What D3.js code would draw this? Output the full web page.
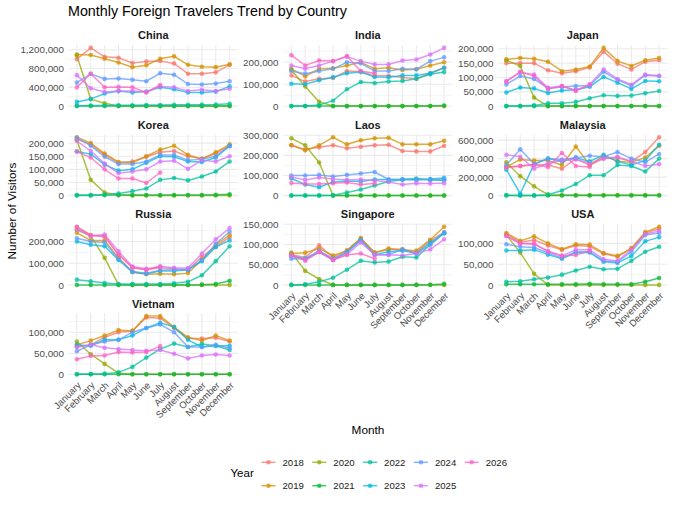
<!DOCTYPE html>
<html>
<head>
<meta charset="utf-8">
<script src="https://cdn.jsdelivr.net/npm/d3@7"></script>
<style>
body { margin: 0; background: #fff; font-family: "Liberation Sans", Arial, sans-serif; }
</style>
</head>
<body>
<div id="chart"></div>
<script>
var months = ["January","February","March","April","May","June","July","August","September","October","November","December"]
var years = ["2018","2019","2020","2021","2022","2023","2024","2025","2026"]
var yearColors = ["#F8766D","#D39200","#93AA00","#00BA38","#00C19F","#00B9E3","#619CFF","#DB72FB","#FF61C3"]
var countries = ["China","India","Japan","Korea","Laos","Malaysia","Russia","Singapore","USA","Vietnam"]

// one row per year (2018..2026), 2026 only reaches July
var china = [
	[1000000,1240000,1050000,1030000,920000,950000,960000,910000,690000,690000,720000,880000],
	[1100000,1090000,1010000,930000,830000,870000,1010000,1060000,880000,840000,830000,890000],
	[1080000,150000,60000,2000,1000,1000,1000,1000,1000,1000,1000,1000],
	[3000,3000,2000,2000,2000,2000,3000,3000,3000,3000,4000,5000],
	[10000,12000,15000,20000,20000,22000,25000,28000,30000,32000,35000,50000],
	[90000,150000,270000,320000,290000,310000,400000,360000,290000,290000,310000,420000],
	[500000,690000,580000,590000,560000,530000,700000,670000,470000,460000,480000,530000],
	[660000,380000,300000,320000,320000,300000,420000,400000,320000,350000,320000,370000],
	[400000,690000,400000,410000,400000,290000,450000]
]
var india = [
	[140000,112000,125000,128000,160000,158000,138000,138000,130000,125000,150000,175000],
	[170000,135000,170000,172000,185000,200000,170000,175000,165000,168000,185000,200000],
	[165000,90000,20000,1000,500,500,500,500,500,500,500,500],
	[500,500,500,500,500,500,500,500,500,1000,1000,3000],
	[1000,1000,5000,25000,77000,110000,105000,112000,115000,125000,145000,155000],
	[102000,100000,118000,132000,150000,155000,133000,132000,140000,140000,150000,175000],
	[160000,148000,160000,170000,200000,195000,160000,160000,170000,168000,205000,222000],
	[185000,170000,185000,205000,225000,205000,190000,190000,208000,212000,235000,265000],
	[232000,185000,208000,205000,228000,160000,150000]
]
var japan = [
	[150000,150000,150000,125000,115000,122000,135000,190000,148000,128000,155000,160000],
	[163000,168000,165000,155000,122000,128000,138000,203000,158000,140000,160000,168000],
	[160000,140000,30000,500,500,500,500,500,500,500,500,500],
	[500,500,500,500,500,500,500,500,500,500,800,1000],
	[500,500,3000,10000,10000,15000,28000,38000,36000,37000,45000,53000],
	[48000,65000,62000,46000,55000,57000,68000,102000,82000,60000,88000,87000],
	[76000,105000,95000,62000,67000,70000,72000,120000,92000,72000,108000,105000],
	[88000,118000,110000,64000,70000,56000,76000,128000,95000,75000,110000,106000],
	[85000,120000,105000,60000,70000,53000,75000]
]
var korea = [
	[215000,195000,155000,125000,130000,148000,165000,170000,150000,140000,160000,190000],
	[222000,200000,160000,128000,125000,150000,175000,190000,155000,140000,165000,195000],
	[212000,60000,12000,2000,500,500,500,500,500,500,500,500],
	[2000,2000,2000,2000,2000,2000,2000,2000,2000,2000,3000,5000],
	[500,500,3000,8000,17000,27000,60000,67000,58000,73000,92000,130000],
	[168000,158000,118000,95000,100000,125000,150000,148000,130000,128000,145000,190000],
	[220000,190000,148000,120000,120000,130000,155000,155000,135000,138000,150000,188000],
	[208000,170000,122000,85000,92000,100000,130000,133000,102000,135000,130000,150000],
	[168000,145000,100000,65000,65000,48000,88000]
]
var laos = [
	[250000,230000,240000,250000,235000,243000,250000,253000,222000,220000,220000,248000],
	[252000,225000,250000,290000,255000,275000,285000,288000,255000,255000,255000,273000],
	[285000,250000,165000,500,500,500,500,500,500,500,500,500],
	[500,500,500,500,500,500,500,500,500,500,500,500],
	[500,500,500,2000,15000,30000,50000,70000,80000,85000,78000,75000],
	[85000,55000,42000,68000,72000,70000,80000,80000,80000,80000,82000,88000],
	[100000,100000,103000,95000,103000,110000,117000,80000,80000,78000,80000,80000],
	[92000,78000,90000,82000,78000,80000,75000,68000,55000,62000,60000,62000],
	[63000,58000,58000,62000,65000,55000,60000]
]
var malaysia = [
	[310000,320000,340000,330000,290000,400000,330000,400000,410000,370000,470000,630000],
	[310000,390000,380000,380000,330000,530000,330000,430000,370000,360000,410000,540000],
	[360000,210000,100000,10000,5000,5000,5000,5000,5000,5000,5000,5000],
	[1000,1000,1000,1000,1000,1000,1000,1000,1000,1000,1000,1000],
	[5000,2000,2000,10000,55000,125000,220000,220000,330000,320000,260000,400000],
	[280000,20000,340000,400000,370000,410000,370000,440000,370000,330000,380000,550000],
	[330000,500000,340000,400000,390000,410000,430000,420000,470000,400000,360000,450000],
	[440000,420000,290000,350000,380000,390000,350000,400000,420000,370000,320000,340000],
	[300000,320000,330000,310000,460000,320000,310000]
]
var russia = [
	[265000,230000,225000,140000,80000,70000,80000,75000,70000,130000,175000,220000],
	[240000,205000,205000,125000,60000,50000,52000,50000,55000,115000,185000,230000],
	[255000,225000,125000,2000,1000,1000,1000,1000,1000,1000,1000,1000],
	[1000,1000,1000,1000,1000,1000,1000,1000,1000,2000,5000,20000],
	[25000,18000,10000,5000,5000,5000,5000,8000,15000,45000,110000,178000],
	[200000,185000,178000,115000,60000,52000,65000,65000,70000,110000,175000,205000],
	[215000,200000,195000,120000,62000,55000,68000,72000,72000,115000,190000,245000],
	[255000,225000,232000,155000,85000,75000,85000,80000,78000,145000,210000,262000],
	[268000,228000,222000,140000,82000,70000,85000]
]
var singapore = [
	[75000,68000,98000,68000,85000,115000,80000,88000,88000,80000,110000,130000],
	[78000,80000,90000,73000,85000,116000,80000,90000,87000,85000,112000,144000],
	[80000,35000,15000,500,500,500,500,500,500,500,500,500],
	[500,500,500,500,500,500,500,500,500,500,1000,3000],
	[500,2000,8000,18000,38000,60000,56000,58000,70000,68000,100000,128000],
	[72000,65000,82000,62000,82000,112000,75000,82000,85000,78000,105000,128000],
	[65000,65000,85000,65000,80000,110000,75000,75000,88000,78000,100000,130000],
	[72000,62000,82000,62000,75000,105000,75000,75000,73000,78000,88000,113000],
	[75000,60000,82000,62000,75000,78000,65000]
]
var usa = [
	[122000,103000,108000,95000,85000,95000,93000,75000,68000,88000,125000,135000],
	[125000,106000,117000,100000,86000,98000,97000,77000,70000,88000,127000,140000],
	[120000,78000,27000,500,500,500,500,500,500,500,500,500],
	[2000,2000,2000,2000,2000,2000,3000,2000,2000,2000,8000,17000],
	[8000,9000,14000,18000,25000,35000,44000,38000,39000,58000,80000,92000],
	[83000,83000,85000,73000,63000,78000,78000,56000,53000,70000,105000,115000],
	[98000,92000,90000,77000,65000,80000,80000,58000,56000,80000,120000,125000],
	[118000,100000,98000,82000,70000,85000,85000,62000,58000,85000,122000,130000],
	[118000,100000,100000,80000,70000,72000,82000]
]
var vietnam = [
	[65000,70000,88000,100000,103000,135000,133000,110000,85000,85000,87000,78000],
	[70000,80000,92000,105000,103000,138000,138000,112000,88000,80000,92000,80000],
	[78000,48000,25000,3000,500,500,500,500,500,500,500,500],
	[500,500,500,500,500,500,500,500,500,500,500,500],
	[500,1000,2000,5000,18000,40000,60000,73000,65000,72000,68000,58000],
	[70000,68000,82000,82000,92000,110000,122000,112000,82000,65000,68000,68000],
	[55000,70000,78000,82000,100000,110000,118000,100000,65000,65000,70000,62000],
	[65000,70000,63000,60000,58000,56000,58000,49000,38000,45000,47000,45000],
	[36000,44000,45000,53000,52000,53000,67000]
]
var countryData = [china, india, japan, korea, laos, malaysia, russia, singapore, usa, vietnam]
var yTicks = [
	[0,400000,800000,1200000],
	[0,100000,200000],
	[0,50000,100000,150000,200000],
	[0,50000,100000,150000,200000],
	[0,100000,200000,300000],
	[0,200000,400000,600000],
	[0,100000,200000],
	[0,50000,100000,150000],
	[0,50000,100000],
	[0,50000,100000]
]

var W = 674, H = 506
var colLefts = [68.5, 283, 498]
var rowTops = [45, 134.4, 223.8, 313.2]
var panelW = 169.5, panelH = 64
var grid = "#EBEBEB", tickColor = "#4D4D4D"
var fmt = d3.format(",")

var svg = d3.select("#chart").append("svg")
	.attr("width", W).attr("height", H)
	.style("font-family", "'Liberation Sans', Arial, sans-serif")

svg.append("text")
	.attr("x", 68).attr("y", 16)
	.attr("font-size", 14.3)
	.attr("fill", "#000")
	.text("Monthly Foreign Travelers Trend by Country")

var x = d3.scalePoint().domain(months).range([0, panelW]).padding(0.6)

function draw_panel(i) {
	var col = i % 3, row = Math.floor(i / 3)
	var series = countryData[i]
	var ticks = yTicks[i]
	var maxVal = d3.max(series, (s) => d3.max(s))
	var minVal = d3.min(series, (s) => d3.min(s))
	var pad = (maxVal - minVal) * 0.05
	var y = d3.scaleLinear().domain([minVal - pad, maxVal + pad]).range([panelH, 0])
	var g = svg.append("g")
		.attr("transform", "translate(" + colLefts[col] + "," + rowTops[row] + ")")

	// minor grid
	var step = ticks[1] - ticks[0]
	var minors = []
	for (var t = ticks[0] - step / 2; t <= ticks[ticks.length - 1] + step / 2; t += step) {
		if (t >= y.domain()[0] && t <= y.domain()[1]) minors.push(t)
	}
	g.selectAll("line.minor").data(minors).enter().append("line")
		.attr("class", "minor")
		.attr("x1", 0).attr("x2", panelW)
		.attr("y1", (d) => y(d)).attr("y2", (d) => y(d))
		.attr("stroke", grid).attr("stroke-width", 0.55)
	g.selectAll("line.hmajor").data(ticks).enter().append("line")
		.attr("class", "hmajor")
		.attr("x1", 0).attr("x2", panelW)
		.attr("y1", (d) => y(d)).attr("y2", (d) => y(d))
		.attr("stroke", grid).attr("stroke-width", 1.1)
	g.selectAll("line.vmajor").data(months).enter().append("line")
		.attr("class", "vmajor")
		.attr("x1", (d) => x(d)).attr("x2", (d) => x(d))
		.attr("y1", 0).attr("y2", panelH)
		.attr("stroke", grid).attr("stroke-width", 1.1)

	// y tick labels
	g.selectAll("text.ytick").data(ticks).enter().append("text")
		.attr("class", "ytick")
		.attr("x", -4.5).attr("y", (d) => y(d))
		.attr("dy", "0.35em")
		.attr("text-anchor", "end")
		.attr("font-size", 9.8)
		.attr("fill", tickColor)
		.text((d) => fmt(d))

	// strip
	g.append("text")
		.attr("x", panelW / 2).attr("y", -9.5)
		.attr("dy", "0.35em")
		.attr("text-anchor", "middle")
		.attr("font-size", 11)
		.attr("font-weight", "bold")
		.attr("fill", "#1A1A1A")
		.text(countries[i])

	var line = d3.line().x((d, j) => x(months[j])).y((d) => y(d))
	series.forEach((s, k) => {
		g.append("path")
			.attr("d", line(s))
			.attr("fill", "none")
			.attr("stroke", yearColors[k])
			.attr("stroke-opacity", 0.75)
			.attr("stroke-width", 1.5)
	})
	series.forEach((s, k) => {
		g.selectAll("circle.y" + k).data(s).enter().append("circle")
			.attr("class", "y" + k)
			.attr("cx", (d, j) => x(months[j]))
			.attr("cy", (d) => y(d))
			.attr("r", 2.3)
			.attr("fill", yearColors[k])
			.attr("fill-opacity", 0.75)
	})

	if (row == 3 || (row == 2 && col > 0)) {
		g.selectAll("text.xtick").data(months).enter().append("text")
			.attr("class", "xtick")
			.attr("transform", (d) => "translate(" + x(d) + "," + (panelH + 4) + ") rotate(-45)")
			.attr("dy", "0.7em")
			.attr("text-anchor", "end")
			.attr("font-size", 9.5)
			.attr("fill", tickColor)
			.text((d) => d)
	}
}

countries.forEach((c, i) => draw_panel(i))

// axis titles
svg.append("text")
	.attr("x", 368).attr("y", 434)
	.attr("text-anchor", "middle")
	.attr("font-size", 11.8)
	.text("Month")
svg.append("text")
	.attr("transform", "translate(16,211) rotate(-90)")
	.attr("text-anchor", "middle")
	.attr("font-size", 11.8)
	.text("Number of Visitors")

// legend
var legend = svg.append("g")
svg.append("text")
	.attr("x", 230.5).attr("y", 477)
	.attr("font-size", 11.5)
	.text("Year")
years.forEach((yr, k) => {
	var lc = Math.floor(k / 2), lr = k % 2
	var lx = 261.5 + lc * 50.8, ly = lr == 0 ? 462.3 : 485.7
	legend.append("line")
		.attr("x1", lx).attr("x2", lx + 14)
		.attr("y1", ly).attr("y2", ly)
		.attr("stroke", yearColors[k]).attr("stroke-opacity", 0.75)
		.attr("stroke-width", 1.5)
	legend.append("circle")
		.attr("cx", lx + 7).attr("cy", ly).attr("r", 2.3)
		.attr("fill", yearColors[k]).attr("fill-opacity", 0.75)
	legend.append("text")
		.attr("x", lx + 21).attr("y", ly)
		.attr("dy", "0.35em")
		.attr("font-size", 9.6)
		.attr("fill", "#1A1A1A")
		.text(yr)
})
</script>
</body>
</html>
